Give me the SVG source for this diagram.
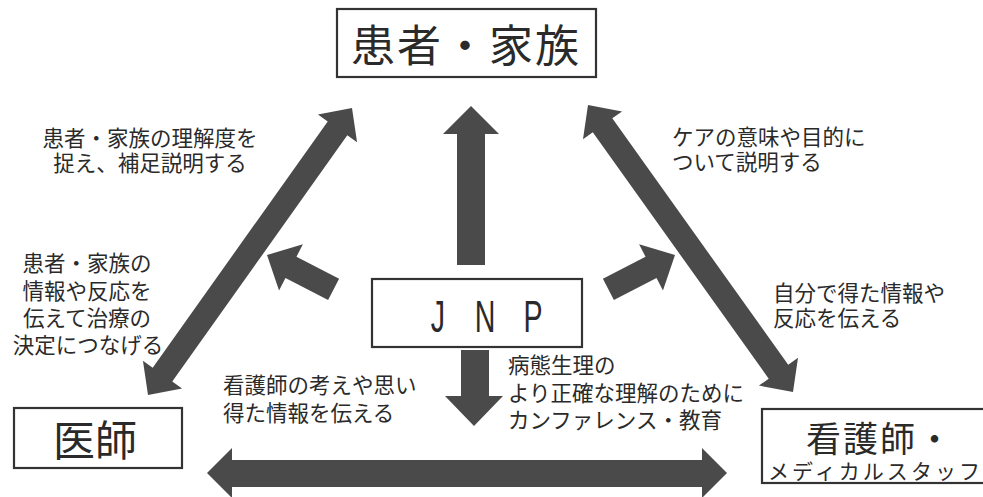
<svg xmlns="http://www.w3.org/2000/svg" width="983" height="497" viewBox="0 0 983 497">
<style>
.box{fill:#fff;stroke:#333;stroke-width:2.2}
.arr{fill:#4a4a4a}
.t{font-family:"Liberation Sans","Noto Sans CJK JP",sans-serif;fill:#2a2a2a}
.s{font-size:21.5px}
</style>
<rect width="983" height="497" fill="#fff"/>
<g id="connectors">
<polygon class="arr" points="471,106 499,134 485,134 485,265 457,265 457,134 443,134"/>
<polygon class="arr" points="461,350 489,350 489,396 503,396 474,426 445,396 461,396"/>
<polygon class="arr" points="207,473 232,448 232,460 702,460 702,448 727,473 702,498 702,487 232,487 232,498"/>
<polygon class="arr" points="352,108 357.07,142.29 347.29,135.33 172.27,381.57 182.05,388.53 148,395 142.93,360.71 152.71,367.67 327.73,121.43 317.95,114.47"/>
<polygon class="arr" points="588,105 622.06,111.39 612.29,118.37 788.23,364.69 798,357.71 793,392 758.94,385.61 768.71,378.63 592.77,132.31 582.99,139.29"/>
<polygon class="arr" points="267,255 302.9,244.3 296.49,256.73 339.1,278.7 328.1,300.1 285.47,278.05 279.05,290.48"/>
<polygon class="arr" points="675,255 639.1,244.3 645.51,256.73 602.9,278.7 613.9,300.1 656.53,278.05 662.95,290.48"/>
</g>
<g id="patient">
<rect class="box" x="337" y="9" width="259" height="68"/>
<text class="t" x="466" y="62" font-size="44" text-anchor="middle" letter-spacing="2">患者・家族</text>
</g>
<g id="doctor">
<rect class="box" x="14" y="408" width="168" height="60"/>
<text class="t" x="95" y="456" font-size="42" text-anchor="middle">医師</text>
</g>
<g id="nurse">
<rect class="box" x="762" y="409" width="240" height="74"/>
<text class="t" x="806" y="452" font-size="35" letter-spacing="2">看護師・</text>
<text class="t" x="768" y="479" font-size="21" textLength="212">メディカルスタッフ</text>
</g>
<g id="jnp">
<rect class="box" x="372" y="279" width="210" height="68"/>
<text x="673.8 710 746.2 782 820" y="332" transform="scale(0.65,1)" text-anchor="middle" font-family="Liberation Sans, sans-serif" font-size="44" fill="#2a2a2a">J N P</text>
</g>
<g id="labels">
<text class="t s" x="150" y="146" text-anchor="middle">患者・家族の理解度を</text>
<text class="t s" x="150" y="171" text-anchor="middle">捉え、補足説明する</text>
<text class="t s" x="87" y="271" text-anchor="middle">患者・家族の</text>
<text class="t s" x="87" y="299" text-anchor="middle">情報や反応を</text>
<text class="t s" x="87" y="326" text-anchor="middle">伝えて治療の</text>
<text class="t s" x="88" y="353" text-anchor="middle">決定につなげる</text>
<text class="t s" x="672" y="145">ケアの意味や目的に</text>
<text class="t s" x="672" y="170">ついて説明する</text>
<text class="t s" x="773" y="301">自分で得た情報や</text>
<text class="t s" x="773" y="326">反応を伝える</text>
<text class="t s" x="223" y="393">看護師の考えや思い</text>
<text class="t s" x="223" y="421">得た情報を伝える</text>
<text class="t s" x="508" y="373">病態生理の</text>
<text class="t s" x="508" y="401">より正確な理解のために</text>
<text class="t s" x="508" y="428">カンファレンス・教育</text>
</g>
</svg>
